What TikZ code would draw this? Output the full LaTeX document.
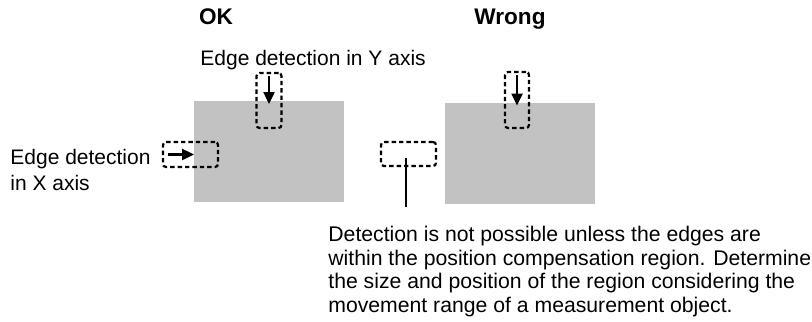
\documentclass[tikz,border=0pt]{standalone}
\usepackage{fontspec}
\setmainfont{Liberation Sans}
\usepackage{tikz}
\usetikzlibrary{positioning,arrows.meta}

\begin{document}
\begin{tikzpicture}[x=0.5pt,y=-0.5pt,
  head/.style={font=\fontsize{11.3}{13}\selectfont\bfseries,inner sep=0pt},
  lbl/.style={font=\fontsize{10.5}{13}\selectfont,inner sep=0pt},
  note/.style={font=\fontsize{10.6}{11.7}\selectfont,inner sep=0pt},
  work/.style={fill=black!24,minimum width=75pt,minimum height=50.5pt,inner sep=0pt,outer sep=0pt},
  win/.style={draw=black,line width=1.1pt,dash pattern=on 2.2pt off 1.5pt,rounded corners=1.5pt,inner sep=0pt,outer sep=0pt},
  a/.style={-{Triangle[length=6pt,width=5.5pt]},line width=1.2pt},
  lead/.style={line width=0.9pt}]
  \useasboundingbox (0,0) rectangle (812,321);
  % headings
  \node[head,anchor=base] (ok) at (216,25) {OK};
  \node[head,anchor=base] (wrong) at (510,25) {Wrong};
  % OK case
  \node[work] (okimg) at (269,151.5) {};
  \node[win,minimum width=12.5pt,minimum height=27.5pt] (oky) at (269,100.5) {};
  \node[win,minimum width=27.5pt,minimum height=12.5pt] (okx) at (190.5,154.5) {};
  \draw[a] ([yshift=-1.5pt]oky.north) -- ([yshift=-1.5pt]oky.north |- okimg.north);
  \draw[a] ([xshift=2.5pt]okx.west) -- (okimg.west |- okx.center);
  \node[lbl,anchor=base west] (ylbl) at (200,65.5) {Edge detection in Y axis};
  \node[lbl,anchor=base west,align=left] (xlbl) at (10,190) {Edge detection\\in X axis};
  % wrong case
  \node[work] (wrimg) at (520,153) {};
  \node[win,minimum width=12pt,minimum height=28pt] (wry) at (517,100) {};
  \node[win,minimum width=27.5pt,minimum height=12pt] (wrx) at (408.5,154) {};
  \draw[a] ([yshift=-1.5pt]wry.north) -- ([yshift=-1.5pt]wry.north |- wrimg.north);
  \coordinate (tail) at (406,207);
  \draw[lead] (406,158) -- (tail);
  \node[note,anchor=base west,align=left] (msg) at (328,312)
    {Detection is not possible unless the edges are\\
     within the position compensation region. Determine\\
     the size and position of the region considering the\\
     movement range of a measurement object.};
\end{tikzpicture}
\end{document}
